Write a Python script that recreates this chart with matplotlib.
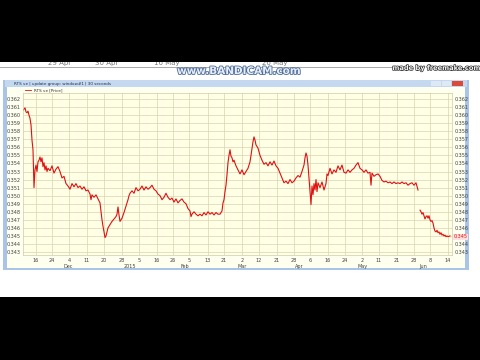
import numpy as np
import matplotlib.pyplot as plt
import matplotlib.transforms as mtransforms
import matplotlib.patheffects as pe
from matplotlib.patches import Rectangle

# bar index along the chart and the price
bars = [0, 2, 3, 4, 5, 6, 7, 8, 9, 10, 11, 12, 13, 14, 15, 16, 17, 18, 19, 20,
        21, 22, 23, 24, 25, 27, 29, 31, 33, 35, 37, 39, 41, 43, 45, 47, 49, 51, 53, 55,
        57, 59, 61, 63, 65, 67, 68, 69, 71, 73, 75, 77, 78, 79, 80, 81, 82, 83, 84, 85,
        87, 89, 91, 93, 94, 95, 96, 97, 99, 101, 103, 105, 106, 107, 109, 111, 113, 115, 117, 119,
        121, 123, 125, 127, 129, 131, 133, 135, 137, 139, 141, 143, 145, 147, 149, 151, 153, 155, 157, 159,
        161, 163, 165, 167, 168, 169, 171, 173, 175, 177, 179, 181, 183, 185, 187, 189, 191, 193, 195, 197,
        199, 200, 201, 202, 203, 204, 205, 206, 207, 208, 209, 210, 211, 213, 215, 217, 219, 221, 223, 225,
        227, 228, 229, 230, 231, 232, 233, 235, 237, 239, 241, 243, 245, 247, 249, 251, 253, 255, 257, 259,
        261, 263, 265, 267, 269, 271, 273, 275, 277, 279, 281, 282, 283, 284, 285, 286, 287, 288, 289, 290,
        291, 292, 293, 294, 295, 297, 299, 301, 303, 304, 305, 307, 309, 311, 313, 315, 317, 319, 321, 323,
        325, 327, 329, 331, 333, 335, 337, 339, 341, 343, 345, 347, 348, 349, 351, 353, 355, 357, 359, 361,
        363, 365, 367, 369, 371, 373, 375, 377, 379, 381, 383, 385, 387, 389, 391, 393, 395, 396,
        397, 398, 399, 400, 401, 402, 403, 404, 405, 406, 407, 408, 409, 410, 411, 412, 413, 414, 415, 416,
        417, 418, 419, 420, 421, 422, 423, 424, 425, 427]
price = [0.3606, 0.3609, 0.3604, 0.3603, 0.3605, 0.3600, 0.3596, 0.3588, 0.3569, 0.3557,
         0.3510, 0.3532, 0.3538, 0.3530, 0.3542, 0.3544, 0.3548, 0.3542, 0.3547, 0.3536,
         0.3541, 0.3532, 0.3537, 0.3530, 0.3534, 0.3531, 0.3537, 0.3528, 0.3533, 0.3536,
         0.3530, 0.3522, 0.3524, 0.3515, 0.3512, 0.3508, 0.3515, 0.3511, 0.3515, 0.3510,
         0.3512, 0.3508, 0.3511, 0.3506, 0.3507, 0.3502, 0.3495, 0.3501, 0.3498, 0.3501,
         0.3496, 0.3491, 0.3480, 0.3470, 0.3462, 0.3455, 0.3448, 0.3450, 0.3455, 0.3460,
         0.3464, 0.3468, 0.3471, 0.3474, 0.3477, 0.3486, 0.3476, 0.3468, 0.3472, 0.3479,
         0.3487, 0.3495, 0.3500, 0.3503, 0.3506, 0.3503, 0.3510, 0.3506, 0.3508, 0.3512,
         0.3507, 0.3511, 0.3508, 0.3510, 0.3513, 0.3508, 0.3506, 0.3502, 0.3500, 0.3495,
         0.3498, 0.3503, 0.3498, 0.3495, 0.3497, 0.3492, 0.3496, 0.3491, 0.3494, 0.3496,
         0.3492, 0.3490, 0.3484, 0.3481, 0.3474, 0.3477, 0.3480, 0.3477, 0.3475, 0.3477,
         0.3475, 0.3479, 0.3476, 0.3480, 0.3477, 0.3479, 0.3476, 0.3479, 0.3477, 0.3477,
         0.3481, 0.3491, 0.3495, 0.3505, 0.3513, 0.3526, 0.3541, 0.3550, 0.3557, 0.3549,
         0.3547, 0.3542, 0.3544, 0.3537, 0.3532, 0.3527, 0.3532, 0.3526, 0.3530, 0.3534,
         0.3542, 0.3550, 0.3559, 0.3567, 0.3573, 0.3569, 0.3563, 0.3559, 0.3550, 0.3544,
         0.3539, 0.3541, 0.3537, 0.3542, 0.3538, 0.3543, 0.3537, 0.3534, 0.3528, 0.3522,
         0.3516, 0.3518, 0.3515, 0.3520, 0.3516, 0.3518, 0.3522, 0.3525, 0.3523, 0.3530,
         0.3538, 0.3547, 0.3553, 0.3549, 0.3538, 0.3522, 0.3505, 0.3489, 0.3512, 0.3501,
         0.3515, 0.3507, 0.3520, 0.3505, 0.3516, 0.3510, 0.3517, 0.3507, 0.3515, 0.3527,
         0.3525, 0.3534, 0.3527, 0.3532, 0.3529, 0.3537, 0.3532, 0.3538, 0.3529, 0.3528,
         0.3532, 0.3529, 0.3532, 0.3534, 0.3538, 0.3541, 0.3534, 0.3532, 0.3529, 0.3532,
         0.3528, 0.3529, 0.3513, 0.3528, 0.3524, 0.3526, 0.3527, 0.3524, 0.3519, 0.3517,
         0.3518, 0.3516, 0.3517, 0.3515, 0.3517, 0.3515, 0.3516, 0.3515, 0.3517, 0.3515,
         0.3516, 0.3513, 0.3515, 0.3516, 0.3513, 0.3516, 0.3507, np.nan,
         0.3482, 0.3480, 0.3477, 0.3479, 0.3475, 0.3471, 0.3474, 0.3475, 0.3472, 0.3475,
         0.3470, 0.3468, 0.3469, 0.3466, 0.3460, 0.3456, 0.3455, 0.3457, 0.3454, 0.3455,
         0.3452, 0.3454, 0.3451, 0.3452, 0.3450, 0.3451, 0.3449, 0.3450, 0.3449, 0.3450]

tick_bars = [13, 29, 46, 64, 81, 99, 116, 134, 150, 166, 185, 201, 219, 236, 254,
             271, 287, 305, 322, 339, 356, 374, 391, 407, 425]
tick_labels = ["16", "24", "4", "11", "20", "28", "5", "16", "26", "5", "13", "21", "2",
               "12", "21", "28", "6", "16", "24", "2", "11", "21", "28", "8", "14"]
month_bars = [45, 107, 162, 219, 276, 340, 400]
month_labels = ["Dec", "2015", "Feb", "Mar", "Apr", "May", "Jun"]
y_ticks = [0.343, 0.344, 0.345, 0.346, 0.347, 0.348, 0.349, 0.350, 0.351, 0.352,
           0.353, 0.354, 0.355, 0.356, 0.357, 0.358, 0.359, 0.360, 0.361, 0.362]
top_dates = ["29 Apr", "30 Apr", "16 May", "26 May"]

W, H = 480, 360
fig = plt.figure(figsize=(4.8, 3.6), dpi=100, facecolor='black')


def box(x0, y0, x1, y1, color, z=-1):
    # rectangle given in pixels, origin top-left
    fig.patches.append(Rectangle((x0 / W, 1 - y1 / H), (x1 - x0) / W, (y1 - y0) / H,
                                 transform=fig.transFigure, facecolor=color,
                                 edgecolor='none', zorder=z))


box(0, 62, 480, 297, 'white')
# strip of the previous chart left over at the top, cut by the black band
fig.lines.append(plt.Line2D([0, 395 / W], [1 - 67 / H] * 2, transform=fig.transFigure,
                            color='#9a9a9a', lw=0.6))
for xp, s in zip([60, 107, 167, 275], top_dates):
    fig.text(xp / W, 1 - 62.5 / H, s, fontsize=5, color='#777777', ha='center', va='center')
box(0, 0, 480, 62, 'black', z=10)

# window
box(3, 80, 469, 270, '#a9c4e6')
box(7, 87, 465, 268, '#fffff0')
box(5, 80, 467, 87, '#c4d8f0')
fig.text(14 / W, 1 - 83.5 / H, "RTS ve | update group: window#1 | 30 seconds",
         fontsize=3, color='#203050', va='center')
box(431, 81, 441, 86, '#dfe8f5')
box(442, 81, 451, 86, '#dfe8f5')
box(452, 81, 463, 86, '#d84a3a')

ax = fig.add_axes([23 / W, 1 - 255 / H, 429 / W, 162 / H])
ax.set_facecolor('#ffffe6')
ax.plot(bars, price, color='#e01010', lw=0.8)
ax.set_xlim(0, 429)
ax.set_ylim(0.34263, 0.36275)
ax.set_xticks(tick_bars)
ax.set_xticklabels(tick_labels)
ax.set_yticks(y_ticks)
ax.set_yticklabels(["%.3f" % v for v in y_ticks])
ax.tick_params(length=0, labelsize=3.5, colors='#404040', labelleft=True, labelright=True)
ax.tick_params(axis='x', pad=2)
ax.tick_params(axis='y', pad=2)
ax.grid(True, color='#d9d5b0', lw=0.5)
for sp in ax.spines.values():
    sp.set_color('#cfcba8')
    sp.set_linewidth(0.5)

trans = mtransforms.blended_transform_factory(ax.transData, ax.transAxes)
for b, s in zip(month_bars, month_labels):
    ax.text(b, -0.068, s, transform=trans, fontsize=3.5, color='#404040',
            ha='center', va='center', clip_on=False)

# last value marker on the right scale
ax.text(1.003, 0.3449, "0.345", transform=mtransforms.blended_transform_factory(ax.transAxes, ax.transData),
        fontsize=3.5, color='#e01010', va='center', ha='left',
        bbox=dict(facecolor='#ffe0e0', edgecolor='none', pad=0.3))

# legend line
fig.lines.append(plt.Line2D([25 / W, 31 / W], [1 - 90 / H] * 2, transform=fig.transFigure,
                            color='#e01010', lw=0.6))
fig.text(34 / W, 1 - 90 / H, "RTS ve [Price]", fontsize=3, color='#303030', va='center')

# recorder watermarks
fig.text(239 / W, 1 - 71 / H, "www.BANDICAM.com", fontsize=7.5, fontweight='bold',
         color='#e8eef8', ha='center', va='center',
         path_effects=[pe.withStroke(linewidth=1.2, foreground='#4a6a9a')])
fig.text(436 / W, 1 - 68 / H, "made by freemake.com", fontsize=4.8, fontweight='bold',
         color='#f4f4f4', ha='center', va='center',
         path_effects=[pe.withStroke(linewidth=1.0, foreground='#303030')])

fig.savefig('out.png', dpi=100, facecolor='black')
